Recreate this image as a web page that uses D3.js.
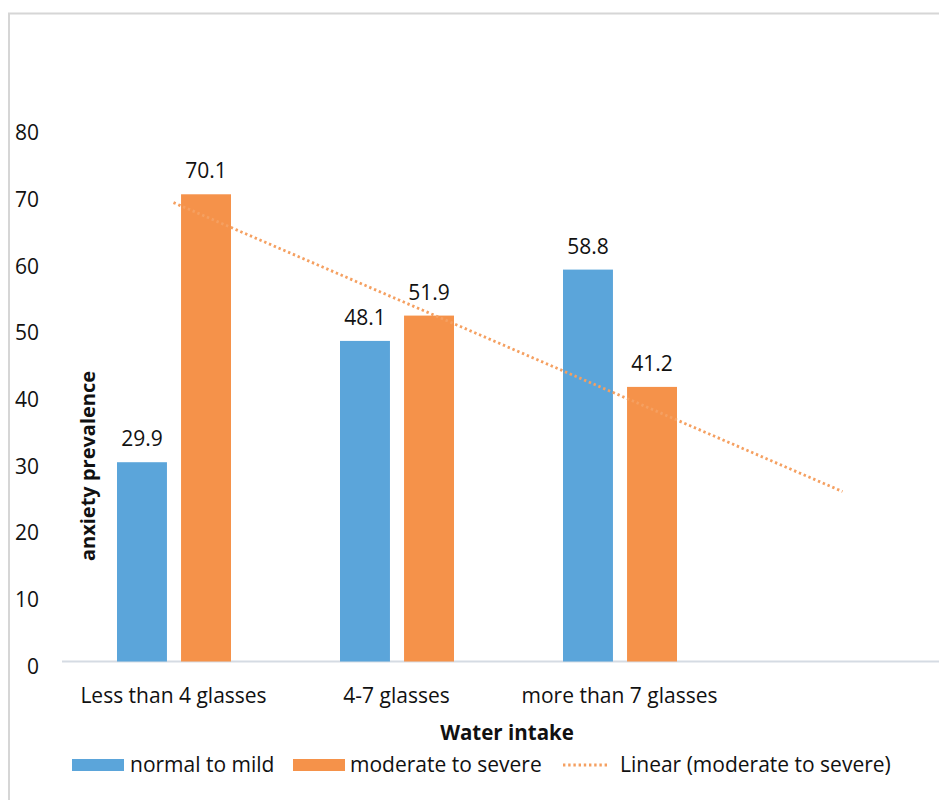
<!DOCTYPE html>
<html><head><meta charset="utf-8">
<script src="https://cdn.jsdelivr.net/npm/d3@7"></script>
<style>
body{margin:0;background:#fff;}
svg{display:block;font-family:"Open Sans",sans-serif;}
</style></head>
<body><svg id="chart" width="939" height="800"></svg>
<script>
const categories = ["Less than 4 glasses", "4-7 glasses", "more than 7 glasses"];
const seriesNames = ["normal to mild", "moderate to severe"];
const normalToMild = [29.9, 48.1, 58.8];
const moderateToSevere = [70.1, 51.9, 41.2];
const yTicks = [0, 10, 20, 30, 40, 50, 60, 70, 80];
const colors = ["#5BA5DA", "#F5924A"];
const trendColor = "#F5A061";

const svg = d3.select("#chart");

// frame
svg.append("path").attr("d", "M9,800 V13.5 H939").attr("fill","none")
  .attr("stroke","#d6d6d6").attr("stroke-width",2);

const y = d3.scaleLinear().domain([0, 80]).range([661.5, 128.3]);
const x0 = d3.scaleBand().domain(categories).range([62, 731]).padding(0);
const x1 = d3.scaleBand().domain(seriesNames).range([55, 169]).paddingInner(0.22).paddingOuter(0);

// y tick labels
const yAxis = d3.axisLeft(y).tickValues(yTicks).tickSize(0).tickPadding(0);
const gy = svg.append("g").attr("transform","translate(39,0)").call(yAxis);
gy.select(".domain").remove();
gy.selectAll("text").attr("font-size",21).attr("fill","#111").attr("dy","0.55em")
  .attr("font-family","Open Sans, sans-serif");

// x axis line
svg.append("line").attr("x1",62).attr("x2",939).attr("y1",y(0)).attr("y2",y(0))
  .attr("stroke","#d5dbe3").attr("stroke-width",2);

// bars
const rows = categories.map((c,i)=>({cat:c, vals:[normalToMild[i], moderateToSevere[i]]}));
const groups = svg.append("g").selectAll("g").data(rows).join("g")
  .attr("transform", d=>`translate(${x0(d.cat)},0)`);
groups.selectAll("rect").data(d=>d.vals.map((v,j)=>({s:seriesNames[j], v, j})))
  .join("rect")
  .attr("x", d=>x1(d.s)).attr("width", x1.bandwidth())
  .attr("y", d=>y(d.v)).attr("height", d=>y(0)-y(d.v))
  .attr("fill", d=>colors[d.j]);
groups.selectAll("text").data(d=>d.vals.map((v,j)=>({s:seriesNames[j], v, j})))
  .join("text")
  .attr("x", d=>x1(d.s)+x1.bandwidth()/2).attr("y", d=>y(d.v)-16)
  .attr("text-anchor","middle").attr("font-size",21).attr("fill","#111")
  .text(d=>d.v.toFixed(1));

// linear trendline for moderate to severe (least squares, forecast forward 1 period)
const n = moderateToSevere.length;
const xs = d3.range(1, n+1);
const mx = d3.mean(xs), my = d3.mean(moderateToSevere);
const slope = d3.sum(xs.map((xv,i)=>(xv-mx)*(moderateToSevere[i]-my))) / d3.sum(xs.map(xv=>(xv-mx)**2));
const intercept = my - slope*mx;
const xIdx = d3.scaleLinear().domain([1,2])
  .range([x0(categories[0])+x0.bandwidth()/2, x0(categories[1])+x0.bandwidth()/2]);
const trendPts = [1, n+1].map(t=>[xIdx(t), y(intercept + slope*t)]);
svg.append("path").attr("d", d3.line()(trendPts)).attr("fill","none")
  .attr("stroke",trendColor).attr("stroke-width",2.8).attr("stroke-dasharray","2.4,2.8");

// category labels
svg.append("g").selectAll("text").data(categories).join("text")
  .attr("x", d=>x0(d)+x0.bandwidth()/2).attr("y", 703)
  .attr("text-anchor","middle").attr("font-size",21).attr("fill","#111").text(d=>d);

// axis titles
svg.append("text").attr("x",507).attr("y",740).attr("text-anchor","middle")
  .attr("font-size",20.5).attr("font-weight","bold").attr("fill","#111").text("Water intake");
svg.append("text").attr("transform","translate(95,466) rotate(-90)").attr("text-anchor","middle")
  .attr("font-size",20).attr("font-weight","bold").attr("fill","#111").text("anxiety prevalence");

// legend
const lg = svg.append("g");
lg.append("rect").attr("x",72).attr("y",759).attr("width",52).attr("height",12).attr("fill",colors[0]);
lg.append("text").attr("x",130).attr("y",772).attr("font-size",21).attr("fill","#111").text(seriesNames[0]);
lg.append("rect").attr("x",293).attr("y",759).attr("width",52).attr("height",12).attr("fill",colors[1]);
lg.append("text").attr("x",350).attr("y",772).attr("font-size",21).attr("fill","#111").text(seriesNames[1]);
lg.append("line").attr("x1",563).attr("x2",608).attr("y1",765).attr("y2",765)
  .attr("stroke",trendColor).attr("stroke-width",2.8).attr("stroke-dasharray","2.4,2.8");
lg.append("text").attr("x",620).attr("y",772).attr("font-size",21).attr("fill","#111").text("Linear (moderate to severe)");
</script></body></html>
